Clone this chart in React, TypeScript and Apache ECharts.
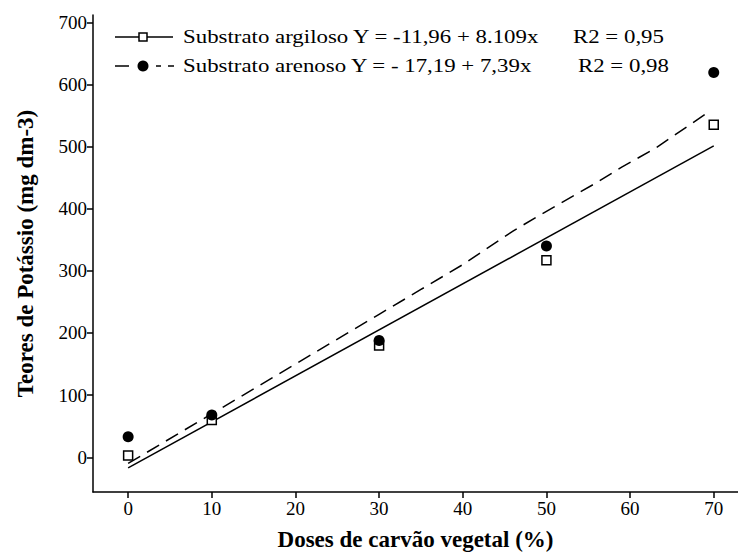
import React, { useEffect, useRef } from "react";
import * as echarts from "echarts";

// ---- data ----
const xTicks = [0, 10, 20, 30, 40, 50, 60, 70];
const yTicks = [0, 100, 200, 300, 400, 500, 600, 700];

const doses = [0, 10, 30, 50, 70];
const argilosoObs = [3, 60, 180, 317, 535];
const arenosoObs = [33, 68, 188, 340, 619];

// fitted curves as drawn in the figure
const argilosoFitX = [0, 70];
const argilosoFitY = [-17, 501];
const arenosoFitX = [0, 10, 20, 30, 35, 40, 46, 49, 56, 59, 63, 69];
const arenosoFitY = [-10, 70, 150, 230, 270, 310, 364, 388, 442, 467, 497, 552];

const legendRow1 = "Substrato argiloso Y = -11,96 + 8.109x";
const legendRow1R2 = "R2 = 0,95";
const legendRow2 = "Substrato arenoso Y = - 17,19 + 7,39x";
const legendRow2R2 = "R2 = 0,98";

const xTitle = "Doses de carvão vegetal (%)";
const yTitle = "Teores de Potássio (mg dm-3)";

const FONT = "'Liberation Serif', 'Times New Roman', serif";

export default function App() {
  const ref = useRef<HTMLDivElement>(null);

  useEffect(() => {
    document.body.style.margin = "0";
    if (!ref.current) return;
    const chart = echarts.init(ref.current, undefined, { renderer: "svg" });

    const pair = (xs: number[], ys: number[]) => xs.map((x, i) => [x, ys[i]]);
    const legendFont = `18px ${FONT}`;

    chart.setOption({
      animation: false,
      backgroundColor: "#fff",
      textStyle: { fontFamily: FONT, color: "#000" },
      grid: { left: 93, right: 0, top: 15, bottom: 64, containLabel: false },
      xAxis: {
        type: "value",
        min: -4.2,
        max: 72.9,
        name: xTitle,
        nameLocation: "middle",
        nameGap: 36,
        nameTextStyle: { fontFamily: FONT, fontSize: 23, fontWeight: "bold", color: "#000" },
        axisLine: { show: true, onZero: false, lineStyle: { color: "#000", width: 1.5 } },
        axisTick: { show: true, length: 6, lineStyle: { color: "#000", width: 1.5 }, customValues: xTicks },
        axisLabel: { fontFamily: FONT, fontSize: 19, color: "#000", margin: 7, customValues: xTicks },
        splitLine: { show: false },
      },
      yAxis: {
        type: "value",
        min: -55.9,
        max: 711.7,
        name: yTitle,
        nameLocation: "middle",
        nameGap: 56,
        nameTextStyle: { fontFamily: FONT, fontSize: 23, fontWeight: "bold", color: "#000" },
        axisLine: { show: true, onZero: false, lineStyle: { color: "#000", width: 1.5 } },
        axisTick: { show: true, length: 6, lineStyle: { color: "#000", width: 1.5 }, customValues: yTicks },
        axisLabel: { fontFamily: FONT, fontSize: 19, color: "#000", margin: 6, customValues: yTicks },
        splitLine: { show: false },
      },
      series: [
        {
          name: "Ajuste argiloso",
          type: "line",
          data: pair(argilosoFitX, argilosoFitY),
          showSymbol: false,
          lineStyle: { color: "#000", width: 1.5, type: "solid", opacity: 1 },
          z: 2,
        },
        {
          name: "Ajuste arenoso",
          type: "line",
          data: pair(arenosoFitX, arenosoFitY),
          showSymbol: false,
          lineStyle: { color: "#000", width: 1.5, type: [14, 8], opacity: 1 },
          z: 2,
        },
        {
          name: "Substrato argiloso",
          type: "scatter",
          data: pair(doses, argilosoObs),
          symbol: "rect",
          symbolSize: 9,
          itemStyle: { color: "#fff", borderColor: "#000", borderWidth: 1.5, opacity: 1 },
          z: 3,
        },
        {
          name: "Substrato arenoso",
          type: "scatter",
          data: pair(doses, arenosoObs),
          symbol: "circle",
          symbolSize: 11,
          itemStyle: { color: "#000", opacity: 1 },
          z: 4,
        },
      ],
      graphic: [
        // row 1
        { type: "line", shape: { x1: 115, y1: 37, x2: 173, y2: 37 }, style: { stroke: "#000", lineWidth: 1.5 } },
        { type: "rect", shape: { x: 139, y: 33, width: 8, height: 8 }, style: { fill: "#fff", stroke: "#000", lineWidth: 1.5 } },
        { type: "text", x: 183, y: 37, scaleX: 1.27, style: { text: legendRow1, font: legendFont, fill: "#000", verticalAlign: "middle" } },
        { type: "text", x: 573, y: 37, scaleX: 1.27, style: { text: legendRow1R2, font: legendFont, fill: "#000", verticalAlign: "middle" } },
        // row 2
        { type: "line", shape: { x1: 115, y1: 66, x2: 129, y2: 66 }, style: { stroke: "#000", lineWidth: 1.5 } },
        { type: "circle", shape: { cx: 143, cy: 66, r: 5.5 }, style: { fill: "#000" } },
        { type: "line", shape: { x1: 156, y1: 66, x2: 161, y2: 66 }, style: { stroke: "#000", lineWidth: 1.5 } },
        { type: "line", shape: { x1: 168, y1: 66, x2: 174, y2: 66 }, style: { stroke: "#000", lineWidth: 1.5 } },
        { type: "text", x: 183, y: 66, scaleX: 1.27, style: { text: legendRow2, font: legendFont, fill: "#000", verticalAlign: "middle" } },
        { type: "text", x: 578, y: 66, scaleX: 1.27, style: { text: legendRow2R2, font: legendFont, fill: "#000", verticalAlign: "middle" } },
      ],
    });

    return () => chart.dispose();
  }, []);

  return <div ref={ref} style={{ width: 738, height: 556 }} />;
}
